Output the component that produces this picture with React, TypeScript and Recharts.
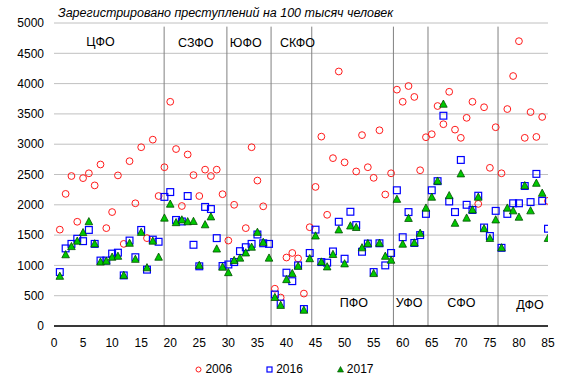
import React from 'react';
import {
  ScatterChart,
  Scatter,
  XAxis,
  YAxis,
  CartesianGrid,
  ReferenceLine,
  ReferenceDot,
  Legend,
} from 'recharts';

// Region index (1..85) of Russian federal subjects
const regionIndex = [
  1, 2, 3, 4, 5, 6, 7, 8, 9, 10, 11, 12, 13, 14, 15, 16, 17, 18, 19, 20,
  21, 22, 23, 24, 25, 26, 27, 28, 29, 30, 31, 32, 33, 34, 35, 36, 37, 38, 39, 40,
  41, 42, 43, 44, 45, 46, 47, 48, 49, 50, 51, 52, 53, 54, 55, 56, 57, 58, 59, 60,
  61, 62, 63, 64, 65, 66, 67, 68, 69, 70, 71, 72, 73, 74, 75, 76, 77, 78, 79, 80,
  81, 82, 83, 84, 85,
];

const crimes2006: (number | null)[] = [
  1590, 2180, 2475, 1720, 2440, 2520, 2320, 2665, 1615, 1880,
  2485, 1355, 2720, 2025, 2950, 1450, 3075, 2145, 2620, 3700,
  2920, 1980, 2830, 2490, 2145, 2580, 2475, 2580, 2175, 1410,
  2000, null, 1615, 2950, 2400, 1975, null, 615, 470, 1130,
  1205, 1115, 535, 1630, 2295, 3125, 1835, 2770, 4200, 2700,
  null, 2550, 3150, 2620, 2445, 3230, 2170, 2520, 3900, 3700,
  3960, 3780, 2570, 3115, 3165, 3630, 3330, 3865, 3240, 3105,
  3435, 3700, 2015, 3610, 2610, 3280, 2520, 3580, 4125, 4700,
  3105, 3530, 3120, 3450, 2065,
];

const crimes2016: (number | null)[] = [
  890, 1280, 1355, 1440, 1400, 1585, 1355, 1080, 1080, 1195,
  1210, 835, 1410, 1135, 1585, 930, 1425, 1390, 2130, 2210,
  1750, 1725, 2145, 1340, 985, 1965, 1930, 1450, 990, 1015,
  1055, 1235, 1300, 1355, 1510, 1365, 1355, 520, 370, 880,
  740, 1000, 280, 1205, 1590, 1055, 1045, 1230, 1720, 1110,
  1885, 1665, 1225, 1360, 890, 1365, 1000, 1205, 2240, 1465,
  1880, 1370, 1500, 1850, 2240, 2390, 3470, 2055, 1880, 2740,
  2000, 1915, 2150, 1625, 1485, 1900, 1290, 1850, 2025, 2025,
  2310, 2045, 2510, 2065, 1605,
];

const crimes2017: (number | null)[] = [
  820, 1175, 1310, 1400, 1540, 1720, 1355, 1055, 1070, 1135,
  1150, 835, 1365, 1100, 1545, 960, 1400, 1135, 1780, 2010,
  1705, 1750, 1720, 1725, 1000, 1670, 1800, 1270, 970, 880,
  1080, 1120, 1205, 1300, 1545, 1380, 1120, 470, 340, 765,
  865, 985, 260, 1110, 1485, 1055, 975, 1180, 1585, 1025,
  1650, 1625, 1290, 1360, 865, 1365, 1150, 1085, 2090, 1350,
  1775, 1370, 1530, 1945, 2125, 2390, 3660, 2150, 1695, 2510,
  1780, 1915, 2125, 1605, 1445, 1750, 1290, 1945, 1900, 1795,
  2315, 1900, 2355, 2190, 1445,
];

const seriesNames = ['2006', '2016', '2017'];

const xTicks = [0, 5, 10, 15, 20, 25, 30, 35, 40, 45, 50, 55, 60, 65, 70, 75, 80, 85];
const yTicks = [0, 500, 1000, 1500, 2000, 2500, 3000, 3500, 4000, 4500, 5000];

// District boundaries (between region indices)
const districtBoundaries = [18.95, 29.75, 37.35, 44.35, 58.4, 64.35, 76.4];
const boundaryTop = 4940;

const districtNames = ['ЦФО', 'СЗФО', 'ЮФО', 'СКФО', 'ПФО', 'УФО', 'СФО', 'ДФО'];
const districtLabelX = [8.0, 24.4, 33.0, 41.9, 51.6, 61.1, 70.1, 81.9];
const districtLabelY = [4690, 4670, 4670, 4670, 390, 390, 390, 350];

const chartTitle = 'Зарегистрировано преступлений на 100 тысяч человек';

const toPoints = (vals: (number | null)[]) =>
  regionIndex
    .map((x, i) => ({ x, y: vals[i] }))
    .filter((p) => p.y !== null && p.y !== undefined);

const data2006 = toPoints(crimes2006);
const data2016 = toPoints(crimes2016);
const data2017 = toPoints(crimes2017);

const FONT = '"Liberation Sans", Arial, sans-serif';

const CircleShape = (props: any) => {
  const { cx, cy } = props;
  if (cx == null || cy == null) return null;
  return <circle cx={cx} cy={cy} r={3.4} fill="none" stroke="#ff1a1a" strokeWidth={1} />;
};

const SquareShape = (props: any) => {
  const { cx, cy } = props;
  if (cx == null || cy == null) return null;
  return (
    <rect x={cx - 3.4} y={cy - 3.4} width={6.8} height={6.8} fill="none" stroke="#0000ff" strokeWidth={1.2} />
  );
};

const TriangleShape = (props: any) => {
  const { cx, cy } = props;
  if (cx == null || cy == null) return null;
  return (
    <polygon
      points={`${cx},${cy - 4.2} ${cx + 3.8},${cy + 3} ${cx - 3.8},${cy + 3}`}
      fill="#00c800"
      stroke="#004d00"
      strokeWidth={0.8}
    />
  );
};

const legendIcon = (name: string) => {
  if (name === '2006')
    return (
      <svg width={7} height={7}>
        <circle cx={3.5} cy={3.5} r={2.5} fill="none" stroke="#ff1a1a" strokeWidth={1} />
      </svg>
    );
  if (name === '2016')
    return (
      <svg width={7} height={7}>
        <rect x={1} y={1} width={5} height={5} fill="none" stroke="#0000ff" strokeWidth={1.2} />
      </svg>
    );
  return (
    <svg width={7} height={7}>
      <polygon points="3.5,0.5 6.5,6 0.5,6" fill="#00a000" stroke="#004d00" strokeWidth={0.6} />
    </svg>
  );
};

const renderLegend = () => (
  <div
    style={{
      display: 'flex',
      justifyContent: 'center',
      alignItems: 'center',
      paddingLeft: 21,
      paddingTop: 6,
      fontFamily: FONT,
      fontSize: 12,
      color: '#000',
    }}
  >
    {seriesNames.map((n, i) => (
      <div
        key={n}
        style={{ display: 'flex', alignItems: 'center', marginLeft: i === 0 ? 0 : 34 }}
      >
        {legendIcon(n)}
        <span style={{ marginLeft: 3 }}>{n}</span>
      </div>
    ))}
  </div>
);

export default function App() {
  return (
    <div style={{ position: 'absolute', left: 0, top: 0, width: 573, height: 390, background: '#fff' }}>
      <ScatterChart
        width={573}
        height={390}
        margin={{ top: 23, right: 25, bottom: 0, left: 0 }}
      >
        <CartesianGrid horizontal vertical={false} stroke="#c0c0c0" strokeWidth={1} />
        <XAxis
          type="number"
          dataKey="x"
          domain={[0, 85]}
          ticks={xTicks}
          interval={0}
          height={30}
          axisLine={{ stroke: '#000', strokeWidth: 1.5 }}
          tickLine={false}
          tick={{ fill: '#000', fontSize: 12, fontFamily: FONT }}
          tickMargin={6}
          allowDataOverflow
        />
        <YAxis
          type="number"
          dataKey="y"
          domain={[0, 5000]}
          ticks={yTicks}
          interval={0}
          width={54}
          axisLine={false}
          tickLine={false}
          tick={{ fill: '#000', fontSize: 12, fontFamily: FONT }}
          tickMargin={4}
          allowDataOverflow
        />
        {districtBoundaries.map((b) => (
          <ReferenceLine
            key={b}
            segment={[
              { x: b, y: 0 },
              { x: b, y: boundaryTop },
            ]}
            stroke="#808080"
            strokeWidth={1}
          />
        ))}
        {districtNames.map((name, i) => (
          <ReferenceDot
            key={name}
            x={districtLabelX[i]}
            y={districtLabelY[i]}
            r={0}
            fill="none"
            stroke="none"
            label={{ value: name, position: 'center', fill: '#000', fontSize: 12.5, fontFamily: FONT }}
          />
        ))}
        <Scatter name="2006" data={data2006} shape={<CircleShape />} isAnimationActive={false} />
        <Scatter name="2016" data={data2016} shape={<SquareShape />} isAnimationActive={false} />
        <Scatter name="2017" data={data2017} shape={<TriangleShape />} isAnimationActive={false} />
        <Legend verticalAlign="bottom" height={34} content={renderLegend} />
      </ScatterChart>
      <div
        style={{
          position: 'absolute',
          left: 58,
          top: 6,
          fontFamily: FONT,
          fontStyle: 'italic',
          fontSize: 12.5,
          lineHeight: '14px',
          color: '#000',
          whiteSpace: 'nowrap',
        }}
      >
        {chartTitle}
      </div>
    </div>
  );
}
